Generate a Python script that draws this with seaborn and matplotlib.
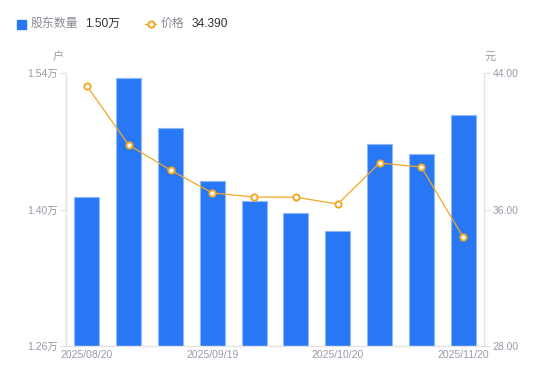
import numpy as np
import pandas as pd
import seaborn as sns
import matplotlib.pyplot as plt
from matplotlib.lines import Line2D
from matplotlib.patches import Rectangle

# values
dates = ['2025/08/20', '2025/08/29', '2025/09/10', '2025/09/19', '2025/09/30',
         '2025/10/10', '2025/10/20', '2025/10/31', '2025/11/10', '2025/11/20']
holders = [1.413, 1.535, 1.484, 1.429, 1.409, 1.396, 1.378, 1.467, 1.457, 1.497]  # 万户
prices = [43.24, 39.78, 38.31, 36.97, 36.73, 36.72, 36.32, 38.72, 38.49, 34.39]
tick_idx = [0, 3, 6, 9]
left_ticks = [1.26, 1.40, 1.54]
right_ticks = [28.0, 36.0, 44.0]

df = pd.DataFrame({'date': dates, 'holders': holders, 'price': prices})

sns.set_style('white')
plt.rcParams['font.family'] = ['Liberation Sans', 'Noto Sans CJK SC', 'DejaVu Sans']

blue = '#2878f5'
orange = '#f5a623'
grey = '#9a9aa8'
spine_c = '#e3e3e8'

fig = plt.figure(figsize=(5.5, 3.81), dpi=100)
ax = fig.add_axes([66 / 550, 1 - 346 / 381, 418 / 550, 273 / 381])

sns.barplot(data=df, x='date', y='holders', color=blue, width=0.6,
            edgecolor='#8fb8fa', linewidth=0.8, saturation=1, ax=ax)
for p in ax.patches:
    p.set_facecolor(blue)
ax.set_ylim(1.26, 1.54)
ax.set_yticks(left_ticks)
ax.set_yticklabels([f'{v:.2f}万' for v in left_ticks])
ax.set_xticks(tick_idx)
ax.set_xticklabels([dates[i] for i in tick_idx])
ax.set_xlim(-0.5, len(dates) - 0.5)
ax.set_xlabel('')
ax.set_ylabel('')

ax2 = ax.twinx()
sns.lineplot(x=np.arange(len(dates)), y=prices, ax=ax2, color=orange, linewidth=0.9,
             marker='o', markersize=4.5, markerfacecolor='white',
             markeredgecolor=orange, markeredgewidth=1.4)
ax2.set_ylim(28, 44)
ax2.set_yticks(right_ticks)
ax2.set_yticklabels([f'{v:.2f}' for v in right_ticks])

for a in (ax, ax2):
    for s in a.spines.values():
        s.set_visible(False)
    a.tick_params(colors=grey, labelsize=7.5, length=0)
ax.spines['left'].set_visible(True)
ax.spines['bottom'].set_visible(True)
ax2.spines['right'].set_visible(True)
for s in (ax.spines['left'], ax.spines['bottom'], ax2.spines['right']):
    s.set_color(spine_c)
    s.set_linewidth(1)
ax.tick_params(axis='y', length=4, width=1, color=spine_c, pad=2)
ax.tick_params(axis='x', pad=3)
ax2.tick_params(axis='y', length=4, width=1, color=spine_c, pad=2)

# axis unit labels
fig.text(58 / 550, 1 - 57 / 381, '户', color=grey, fontsize=8, ha='center', va='center')
fig.text(490 / 550, 1 - 57 / 381, '元', color=grey, fontsize=8, ha='center', va='center')

# legend row
ly = 1 - 24 / 381
fig.add_artist(Rectangle((17 / 550, ly - 4.5 / 381), 9 / 550, 9 / 381,
                         transform=fig.transFigure, color=blue))
fig.text(31 / 550, ly, '股东数量', color='#8a8a96', fontsize=8.6, va='center')
fig.text(85 / 550, ly, '1.50万', color='#333333', fontsize=8.6, va='center')
fig.add_artist(Line2D([145 / 550, 156 / 550], [ly, ly], transform=fig.transFigure,
                      color=orange, linewidth=1))
fig.add_artist(Line2D([150.5 / 550], [ly], transform=fig.transFigure, marker='o',
                      markersize=4.5, markerfacecolor='white', markeredgecolor=orange,
                      markeredgewidth=1.4))
fig.text(161 / 550, ly, '价格', color='#8a8a96', fontsize=8.6, va='center')
fig.text(192 / 550, ly, '34.390', color='#333333', fontsize=8.6, va='center')

fig.savefig('out.png', dpi=100)
